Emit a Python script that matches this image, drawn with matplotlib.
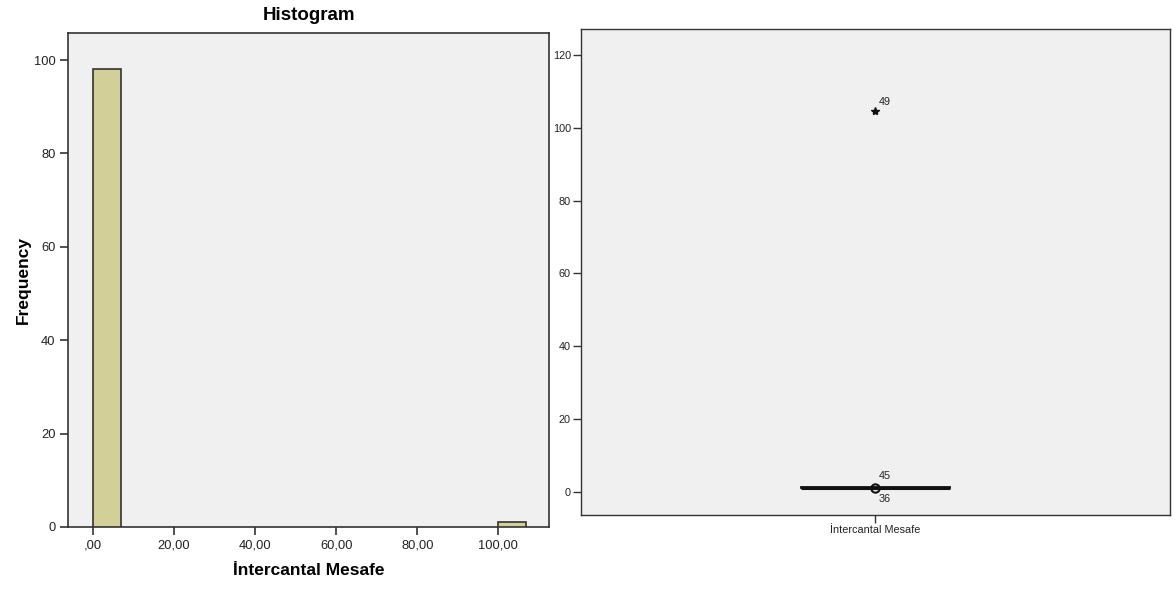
import matplotlib
matplotlib.use("Agg")
import matplotlib.pyplot as plt

plt.rcParams['font.family'] = ['Liberation Sans', 'DejaVu Sans']

# ---- Histogram data ----
bin_starts = [0.0, 100.0]
bin_width = 6.9
counts = [98, 1]
hist_xticks = [0, 20, 40, 60, 80, 100]
hist_xticklabels = [",00", "20,00", "40,00", "60,00", "80,00", "100,00"]
hist_yticks = [0, 20, 40, 60, 80, 100]

# ---- Boxplot data ----
box_label = "İntercantal Mesafe"
box_q1 = 1.0
box_med = 1.1
box_q3 = 1.2
box_whislo = 0.9
box_whishi = 1.3
outlier_vals = [1.1]
outlier_ids = ["45", "36"]
extreme_vals = [104.6]
extreme_ids = ["49"]
box_yticks = [0, 20, 40, 60, 80, 100, 120]

BG = "#f0f0f0"
BAR = "#d3cf98"
EDGE = "#333333"

fig = plt.figure(figsize=(11.75, 5.92), dpi=100)

# Histogram
ax1 = fig.add_axes([0.0579, 0.1098, 0.4094, 0.8345])
ax1.set_facecolor(BG)
ax1.bar(bin_starts, counts, width=bin_width, align='edge', color=BAR,
        edgecolor=EDGE, linewidth=1.2, zorder=3)
ax1.set_xlim(-6.1, 112.5)
ax1.set_ylim(0, 105.8)
ax1.set_xticks(hist_xticks)
ax1.set_xticklabels(hist_xticklabels)
ax1.set_yticks(hist_yticks)
ax1.tick_params(direction='out', length=6, width=1.2, labelsize=9.3,
                colors=EDGE, labelcolor='#222222', pad=3)
for s in ax1.spines.values():
    s.set_color(EDGE)
    s.set_linewidth(1.2)
ax1.set_title("Histogram", fontsize=13.5, fontweight='bold', pad=9)
ax1.set_xlabel("İntercantal Mesafe", fontsize=12.5, fontweight='bold', labelpad=8)
ax1.set_ylabel("Frequency", fontsize=12.5, fontweight='bold', labelpad=2)

# Boxplot
ax2 = fig.add_axes([0.4942, 0.130, 0.5015, 0.821])
ax2.set_facecolor(BG)
stats = [dict(med=box_med, q1=box_q1, q3=box_q3, whislo=box_whislo,
              whishi=box_whishi, fliers=[], label=box_label)]
ax2.bxp(stats, positions=[1], widths=0.253, showfliers=False,
        patch_artist=True,
        boxprops=dict(facecolor=BG, edgecolor='#111111', linewidth=1.3),
        medianprops=dict(color='#111111', linewidth=2.2),
        whiskerprops=dict(color='#111111', linewidth=1),
        capprops=dict(color='#111111', linewidth=1, alpha=0))
ax2.plot([1] * len(outlier_vals), outlier_vals, 'o', mfc='none', mec='#111111',
         mew=1.5, ms=6, zorder=4)
ax2.plot([1] * len(extreme_vals), extreme_vals, '*', color='#111111', ms=6, zorder=4)
ax2.text(1.006, outlier_vals[0] + 3.2, outlier_ids[0], fontsize=7.8, ha='left',
         va='center', color='#222222')
ax2.text(1.006, outlier_vals[0] - 3.0, outlier_ids[1], fontsize=7.8, ha='left',
         va='center', color='#222222')
ax2.text(1.006, extreme_vals[0] + 2.5, extreme_ids[0], fontsize=7.8, ha='left',
         va='center', color='#222222')
ax2.set_xlim(0.5, 1.5)
ax2.set_ylim(-6.4, 127.2)
ax2.set_yticks(box_yticks)
ax2.set_xticks([1])
ax2.set_xticklabels([box_label])
ax2.tick_params(direction='out', length=6, width=1.0, labelsize=7.8,
                colors=EDGE, labelcolor='#222222', pad=1)
for s in ax2.spines.values():
    s.set_color(EDGE)
    s.set_linewidth(1.0)

fig.savefig("out.png", dpi=100)
